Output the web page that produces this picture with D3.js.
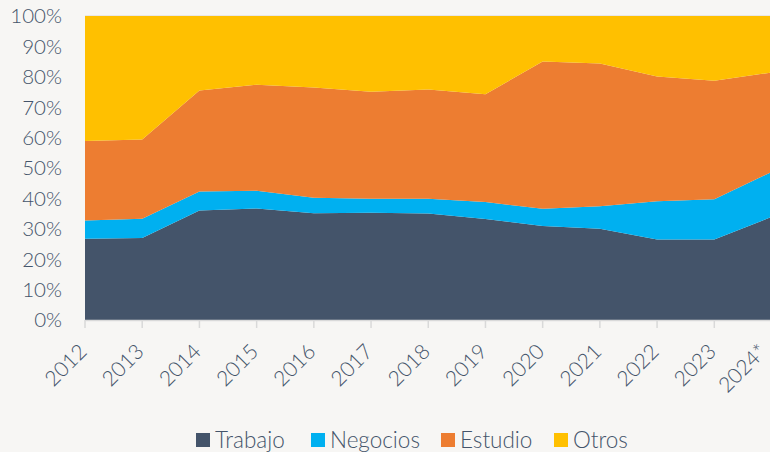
<!DOCTYPE html>
<html><head><meta charset="utf-8">
<script src="https://cdn.jsdelivr.net/npm/d3@7"></script>
<style>
html,body{margin:0;padding:0;background:#f7f6f4;}
svg{display:block;}
text{font-family:Lato,"Open Sans",sans-serif;fill:#44546a;font-weight:300;}
</style></head><body>
<svg id="c" width="770" height="452"></svg>
<script>
const years = ["2012","2013","2014","2015","2016","2017","2018","2019","2020","2021","2022","2023","2024*"];
const seriesNames = ["Trabajo","Negocios","Estudio","Otros"];
const trabajo  = [26.7,27.0,36.0,36.7,35.1,35.3,35.0,33.2,30.9,30.0,26.5,26.5,33.9];
const negocios = [6.0,6.3,6.3,5.8,5.1,4.6,4.9,5.6,5.7,7.4,12.6,13.2,14.8];
const estudio  = [26.2,26.1,33.2,34.9,36.3,35.2,35.9,35.5,48.4,47.0,41.0,39.0,32.7];
const otros    = [41.1,40.6,24.5,22.6,23.5,24.9,24.2,25.7,15.0,15.6,19.9,21.3,18.6];
const yTicks = [0,10,20,30,40,50,60,70,80,90,100];
const colors = ["#44546a","#00b0f0","#ed7d31","#ffc000"];

const rows = years.map((y,i)=>({year:y, Trabajo:trabajo[i], Negocios:negocios[i], Estudio:estudio[i], Otros:otros[i]}));
const stack = d3.stack().keys(seriesNames)(rows);

const svg = d3.select("#c");
const x = d3.scalePoint().domain(years).range([85,771.5]);
const y = d3.scaleLinear().domain([0,100]).range([320,16]);

svg.append("line").attr("x1",85).attr("x2",771).attr("y1",y(100)).attr("y2",y(100))
  .attr("stroke","#d9d9d9").attr("stroke-width",1);

const area = d3.area().x((d,i)=>x(years[i])).y0(d=>y(d[0])).y1(d=>y(d[1]));
svg.selectAll("path.a").data(stack).join("path").attr("class","a")
  .attr("d",area).attr("fill",(d,i)=>colors[i]);

svg.append("line").attr("x1",85).attr("x2",771).attr("y1",320.5).attr("y2",320.5)
  .attr("stroke","#d9d9d9").attr("stroke-width",1.5);
svg.selectAll("line.t").data(years).join("line").attr("class","t")
  .attr("x1",d=>x(d)).attr("x2",d=>x(d)).attr("y1",320).attr("y2",328)
  .attr("stroke","#d9d9d9").attr("stroke-width",1.5);

svg.selectAll("text.y").data(yTicks).join("text").attr("class","y")
  .attr("x",62).attr("y",d=>y(d)).attr("dy","0.36em").attr("text-anchor","end")
  .style("font-size","20.5px").text(d=>d+"%");

svg.selectAll("text.x").data(years).join("text").attr("class","x")
  .attr("transform",d=>`translate(${Math.min(x(d)+3,768)},353) rotate(-45)`)
  .attr("text-anchor","end")
  .style("font-size","21px").text(d=>d);

const legX = [196,311,441,554];
const lg = svg.selectAll("g.l").data(seriesNames).join("g").attr("class","l")
  .attr("transform",(d,i)=>`translate(${legX[i]},433)`);
lg.append("rect").attr("width",14).attr("height",14).attr("fill",(d,i)=>colors[i]);
lg.append("text").attr("x",19).attr("y",7).attr("dy","0.36em").style("font-size","22.5px").text(d=>d);
</script>
</body></html>
